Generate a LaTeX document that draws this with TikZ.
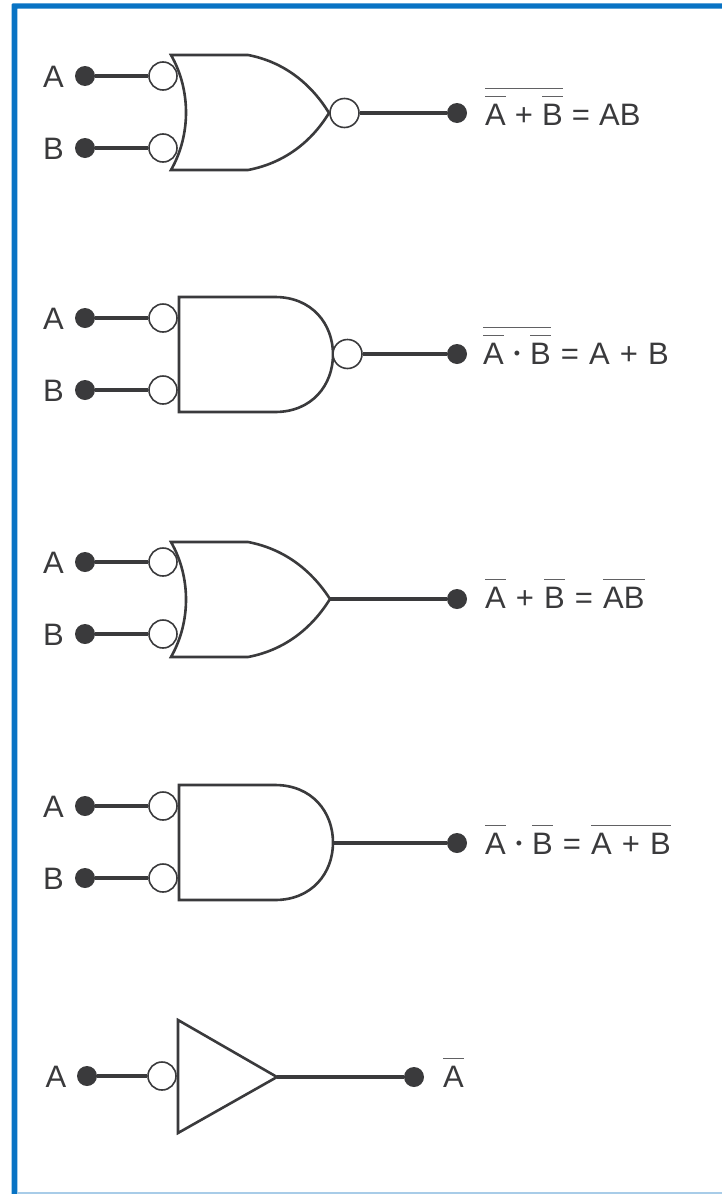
\documentclass[tikz,border=0pt]{standalone}
\usepackage{fontspec}
\setmainfont{Liberation Sans}
\definecolor{inkgray}{HTML}{3A3A3C}
\definecolor{frameblue}{HTML}{0873C4}
\definecolor{framelight}{HTML}{A8CCE8}
\newcommand{\ovbar}[1]{\vbox{\color{inkgray!80}\hrule height 1.5pt \kern 6.5pt \hbox{\color{inkgray}#1}}}
\newcommand{\andsign}{\kern 10pt\raisebox{4.5pt}{\fontsize{18}{18}\selectfont\textbullet}\kern 10pt}
\newcommand{\eqfont}{\fontsize{31}{31}\selectfont\spaceskip 10.1pt\relax}
\newcommand{\eqfontnarrow}{\fontsize{31}{31}\selectfont\spaceskip 9.1pt\relax}
\tikzset{
  gate/.style={draw=inkgray, line width=2.6pt, line join=miter},
  wire/.style={draw=inkgray, line width=3.6pt},
  bubble/.style={circle, draw=inkgray, line width=1.6pt, fill=white, minimum size=28pt, inner sep=0pt},
  terminal/.style={circle, fill=inkgray, minimum size=20pt, inner sep=0pt},
  pinlabel/.style={anchor=base, text=inkgray, font=\fontsize{31}{31}\selectfont, inner sep=0pt},
  eqlabel/.style={anchor=base west, text=inkgray, font=\eqfont, inner sep=0pt}
}
\begin{document}
\begin{tikzpicture}[x=1pt, y=-1pt]
    \useasboundingbox (0,0) rectangle (722,1194);
    \fill[frameblue] (11.7,4.3) -- (12.7,3.3) -- (722,3.3) -- (722,8.7) -- (17.3,8.7) -- (17.3,1194) -- (11.7,1194) -- cycle;
    \fill[framelight] (17.3,1192) rectangle (722,1194);

    \node[terminal] (dotA1) at (85,76) {};
    \node[terminal] (dotB1) at (85,148) {};
    \node[pinlabel] (labA1) at (53.5,87) {A};
    \node[pinlabel] (labB1) at (53.5,159) {B};
    \node[bubble] (inA1) at (163,76) {};
    \node[bubble] (inB1) at (163,148) {};
    \draw[wire] (dotA1) -- (inA1);
    \draw[wire] (dotB1) -- (inB1);
    \draw[gate] (171,55) -- (248,55) .. controls (285,62) and (312,85) .. (329,113) .. controls (312,141) and (285,163) .. (248,170) -- (171,170) .. controls (191,135) and (191,90) .. cycle;
    \node[bubble, minimum size=29pt] (out1) at (344.5,113) {};
    \node[terminal] (dotY1) at (457,113) {};
    \draw[wire] (out1) -- (dotY1);
    \node[eqlabel, font=\eqfontnarrow] (eq1) at (485,125) {\ovbar{\ovbar{A} + \ovbar{B}} = AB};

    \node[terminal] (dotA2) at (85,318) {};
    \node[terminal] (dotB2) at (85,390) {};
    \node[pinlabel] (labA2) at (53.5,329) {A};
    \node[pinlabel] (labB2) at (53.5,401) {B};
    \node[bubble] (inA2) at (163,318) {};
    \node[bubble] (inB2) at (163,390) {};
    \draw[wire] (dotA2) -- (inA2);
    \draw[wire] (dotB2) -- (inB2);
    \draw[gate] (275,297) -- (179,297) -- (179,412) -- (275,412) .. controls (312,412) and (333,385) .. (333,354.5) .. controls (333,324) and (312,297) .. cycle;
    \node[bubble, minimum size=29pt] (out2) at (347.5,354) {};
    \node[terminal] (dotY2) at (457,354) {};
    \draw[wire] (out2) -- (dotY2);
    \node[eqlabel] (eq2) at (483,364) {\ovbar{\ovbar{A}\andsign\ovbar{B}} = A + B};

    \node[terminal] (dotA3) at (85,562) {};
    \node[terminal] (dotB3) at (85,634) {};
    \node[pinlabel] (labA3) at (53.5,573) {A};
    \node[pinlabel] (labB3) at (53.5,645) {B};
    \node[bubble] (inA3) at (163,562) {};
    \node[bubble] (inB3) at (163,634) {};
    \draw[wire] (dotA3) -- (inA3);
    \draw[wire] (dotB3) -- (inB3);
    \draw[gate] (171,542) -- (248,542) .. controls (285,549) and (312,571) .. (330,599) .. controls (312,628) and (285,650) .. (248,657) -- (171,657) .. controls (191,622) and (191,577) .. cycle;
    \coordinate (out3) at (330,599);
    \node[terminal] (dotY3) at (457,599) {};
    \draw[wire] (out3) -- (dotY3);
    \node[eqlabel] (eq3) at (485,608) {\ovbar{A} + \ovbar{B} = \ovbar{AB}};

    \node[terminal] (dotA4) at (85,806) {};
    \node[terminal] (dotB4) at (85,878) {};
    \node[pinlabel] (labA4) at (53.5,817) {A};
    \node[pinlabel] (labB4) at (53.5,889) {B};
    \node[bubble] (inA4) at (163,806) {};
    \node[bubble] (inB4) at (163,878) {};
    \draw[wire] (dotA4) -- (inA4);
    \draw[wire] (dotB4) -- (inB4);
    \draw[gate] (275,785) -- (179,785) -- (179,900) -- (275,900) .. controls (312,900) and (333,873) .. (333,842.5) .. controls (333,812) and (312,785) .. cycle;
    \coordinate (out4) at (333,843);
    \node[terminal] (dotY4) at (457,843) {};
    \draw[wire] (out4) -- (dotY4);
    \node[eqlabel] (eq4) at (485,854) {\ovbar{A}\andsign\ovbar{B} = \ovbar{A + B}};

    \node[terminal] (dotA5) at (87,1076) {};
    \node[pinlabel] (labA5) at (56,1087) {A};
    \node[bubble] (inA5) at (162,1076) {};
    \draw[wire] (dotA5) -- (inA5);
    \draw[gate] (178,1020) -- (277,1077) -- (178,1133) -- cycle;
    \coordinate (out5) at (277,1077);
    \node[terminal] (dotY5) at (414,1077) {};
    \draw[wire] (out5) -- (dotY5);
    \node[eqlabel] (eq5) at (443,1087) {\ovbar{A}};
\end{tikzpicture}
\end{document}
